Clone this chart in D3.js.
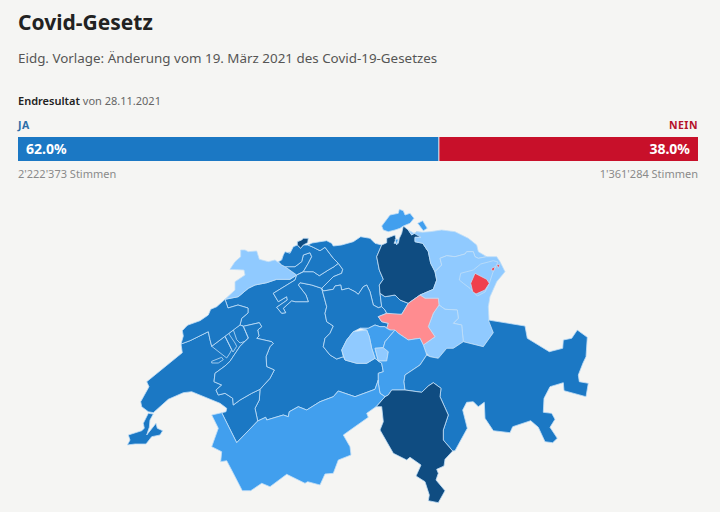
<!DOCTYPE html>
<html>
<head>
<meta charset="utf-8">
<script src="https://cdn.jsdelivr.net/npm/d3@7"></script>
<style>
body { margin: 0; background: #f5f5f3; }
text { font-family: "Noto Sans", sans-serif; }
</style>
</head>
<body>
<div id="chart"></div>
<script>
// result bar
var answers = ["JA", "NEIN"];
var shares = [62.0, 38.0];
var votes = [2222373, 1361284];
var barColors = ["#1b78c4", "#c8102a"];
var labelColors = ["#2c6ea8", "#b5112a"];

// ja share per canton, estimated from the colour classes of the map
var cantons = ["BE", "VD", "FR", "NE", "JU", "SO", "BL", "BS", "AG", "LU", "ZG", "ZH", "SH", "TG", "SG", "AR", "AI", "GL", "SZ", "NW", "OW", "UR", "GR", "TI", "VS", "GE"];
var jaShare = [63.5, 64, 63, 62, 53, 61, 63, 70, 61, 62, 64, 69, 58, 53, 52, 52, 42, 53, 47, 57, 53, 56, 63, 66, 57, 64];
var classBreaks = [45, 50, 55, 60, 65];
var classColors = ["#f0404d", "#ff8c90", "#90caff", "#419fee", "#1b78c4", "#0f4c81"];

// canton outlines, map units
var BE = [[[225,299.3],[238.3,296.7],[248.3,288.3],[255,285],[266.7,282.7],[276.7,279.3],[290,279.3],[296.7,275],[295,280],[273.3,293.3],[278.3,301.7],[286.7,296.7],[287.3,300],[276.7,307.3],[281.7,313.3],[285.7,312.7],[283.3,308.3],[291.7,300.7],[295,301.7],[308.3,301.7],[306,295],[298.3,285],[300,282.7],[311.7,285],[321.7,288.3],[326.7,306.7],[325,313.3],[326.7,321.7],[333.3,326],[330,333.3],[325,338.3],[323.3,346.7],[330,355],[336.7,359],[343.3,356.7],[345,360],[356.7,363.3],[366.7,363.3],[375,358.3],[378.3,361],[381.7,363.3],[383.3,371.7],[378.3,373.3],[378.3,380],[375,389.3],[355,396.7],[338.3,391],[333.3,396.7],[320,401.7],[306.7,410],[298.3,406.7],[289.3,411.7],[288.3,416.7],[283.3,415],[266.7,420],[265.7,417.3],[257.7,421],[255,408.3],[259.3,400],[260,389.3],[270,378.3],[274.3,370],[266.7,366.7],[266,356.7],[270,346.7],[273.3,343.3],[271.7,341.7],[256.7,338.3],[259,336],[257.7,330],[261.7,326.7],[259.3,322.7],[243.3,326.3],[240,325],[241.7,318.3],[248,313],[248,308],[238,305],[228,308]]];
var VD = [[[190,340.7],[181,344],[182.3,352.7],[146.7,381.7],[149,386.7],[140.7,401.7],[141.7,406.7],[148.3,411.7],[153.3,412.7],[168.3,399.3],[183.3,392.7],[191.7,391.7],[220,403.3],[226.7,408.3],[226,411.7],[221.7,412.7],[236.7,442.7],[257.7,421],[255,408.3],[259.3,400],[260,389.3],[251.7,393.3],[240,400],[233.3,405],[232.7,398.3],[225,393.3],[218.3,395],[216,390],[221.7,385],[214,381.7],[215,373.3],[225,366],[230,361.3],[233.3,356.3],[240,346.3],[245,341.3],[248.3,338],[243.3,326.3],[240,325],[225,336.3],[211.7,346.3],[210,339.7],[208.3,331.7]]];
var FR = [[[243.3,326.3],[259.3,322.7],[261.7,326.7],[257.7,330],[259,336],[256.7,338.3],[271.7,341.7],[273.3,343.3],[270,346.7],[266,356.7],[266.7,366.7],[274.3,370],[270,378.3],[260,389.3],[251.7,393.3],[240,400],[233.3,405],[232.7,398.3],[225,393.3],[218.3,395],[216,390],[221.7,385],[214,381.7],[215,373.3],[225,366],[230,361.3],[233.3,356.3],[240,346.3],[245,341.3],[248.3,338]],
  [[211.7,346.3],[225,336.3],[231.7,349.7],[230,353],[226.7,358]],
  [[228.3,333],[235,343],[236.7,346.3],[233,352],[231.7,349.7],[225,336.3]],
  [[233.3,329.7],[236.7,339.7],[240,343],[245,341.3],[248.3,338],[243.3,326.3],[240,325]],
  [[211.7,361.3],[221.7,357.3],[223.3,359.7],[218.3,363],[211.7,363]]];
var NE = [[[225,299.3],[228,308],[238,305],[248,308],[248,313],[241.7,318.3],[240,325],[225,336.3],[211.7,346.3],[210,339.7],[208.3,331.7],[190,340.7],[181,344],[183.3,336],[182.3,330.7],[186.7,326],[188,325],[200,320.7],[208.3,315],[210.7,309.3],[216.7,306.7]]];
var JU = [[[225,299.3],[235,290],[235,281.7],[245,275],[244,270],[230,269.3],[235,261.7],[240.7,256.7],[240.7,250],[245,250],[248.3,251.7],[256.7,251],[259.3,259.3],[268.3,261.7],[275,260],[281.7,265],[285,266.7],[296.7,275],[290,279.3],[276.7,279.3],[266.7,282.7],[255,285],[248.3,288.3],[238.3,296.7]]];
var SO = [[[296.7,275],[303.3,271.7],[313.3,271.7],[319.3,275.7],[328.3,270],[334,266.7],[338.3,263.3],[342.7,269.3],[341.7,273.3],[333.3,276.7],[321.7,288.3],[311.7,285],[300,282.7],[298.3,285],[306,295],[308.3,301.7],[295,301.7],[291.7,300.7],[283.3,308.3],[285.7,312.7],[281.7,313.3],[276.7,307.3],[287.3,300],[286.7,296.7],[278.3,301.7],[273.3,293.3],[295,280]],
  [[285,266.7],[295,266.7],[301.7,261.7],[303.3,255],[310,252.7],[311.7,256.7],[308.3,263.3],[303.3,271.7],[296.7,275]],
  [[280,262.7],[286.7,258.3],[295,256.7],[293.3,251.7],[285,252.7]]];
var BL = [[[281.7,265],[285,266.7],[295,266.7],[301.7,261.7],[303.3,255],[310,252.7],[311.7,256.7],[308.3,263.3],[303.3,271.7],[313.3,271.7],[319.3,275.7],[328.3,270],[334,266.7],[338.3,263.3],[333.3,258.3],[325,247.3],[320,250.7],[313.3,247.3],[308,245],[303.3,245],[300.7,248.3],[297.3,245],[293.3,246.7],[290,253.3],[285,251.7],[283.3,255],[281.7,260],[278.3,261.7]]];
var BS = [[[297.3,241.7],[301.7,240],[303.3,238.3],[308.3,238.3],[307.7,242.7],[303.3,245],[300.7,248.3],[297.3,245]]];
var AG = [[[308,245],[312,243],[320,241.7],[326.7,240.7],[331.7,243.3],[333.3,246],[341.7,245],[353.3,241.7],[360.7,236.7],[370,238.3],[375,243.3],[381.7,245],[376.7,256.7],[379.3,270],[383.3,279.3],[379.3,285],[380,293.3],[381.7,306.7],[378.3,307.7],[373.3,305],[370,291.7],[366.7,285],[363.3,286.7],[358.3,294.3],[355,291.7],[348.3,288.3],[341.7,290],[340.7,285],[335,286],[333.3,289.3],[323.3,291],[321.7,288.3],[333.3,276.7],[341.7,273.3],[342.7,269.3],[338.3,263.3],[333.3,258.3],[325,247.3],[320,250.7],[313.3,247.3]]];
var LU = [[[321.7,288.3],[323.3,291],[333.3,289.3],[335,286],[340.7,285],[341.7,290],[348.3,288.3],[355,291.7],[358.3,294.3],[363.3,286.7],[366.7,285],[370,291.7],[373.3,305],[378.3,307.7],[381.7,306.7],[385,310],[386.7,313.3],[378.3,316.7],[381.7,321.7],[388.3,323.3],[386.7,328.3],[385,326.7],[380,326.7],[375,325],[368.3,328.3],[360,328.3],[353.3,331.7],[346.7,340],[341.7,350],[343.3,356.7],[336.7,359],[330,355],[323.3,346.7],[325,338.3],[330,333.3],[333.3,326],[326.7,321.7],[325,313.3],[326.7,306.7]]];
var ZG = [[[380,293.3],[385,296.7],[395,295],[400,300],[408.3,303.3],[401.7,314.3],[395,315],[386.7,313.3],[385,310],[381.7,306.7]]];
var ZH = [[[403.3,226],[408.3,230],[411.7,235],[416.7,231.7],[421.7,232.3],[421,237.3],[415,237.3],[415,241.7],[422.7,243.3],[428.3,251.7],[430.7,263.3],[435,271.7],[436.7,280],[433.3,289.3],[420,295],[408.3,303.3],[400,300],[395,295],[385,296.7],[380,293.3],[379.3,285],[383.3,279.3],[379.3,270],[376.7,256.7],[381.7,245],[386.7,242.7],[386.7,238.3],[395,235],[396,239.3],[394,243.3],[398.3,243.3],[399.3,238.3],[401.7,233.3]]];
var SH = [[[381.7,226],[390,215],[398.3,213.3],[399.3,209.3],[403.3,210.7],[405,215],[410,213.3],[414,218.3],[410,223.3],[403.3,226],[400,228.3],[395,230],[388.3,231.7],[383.3,230]],
  [[417.7,223.3],[422.7,220.7],[427.3,228.3],[423.3,230.7]],
  [[395,239.3],[398.3,239.3],[396.7,245]]];
var TG = [[[408.3,230],[411.7,235],[416.7,231.7],[421.7,232.3],[430,231.7],[441.7,230],[455,231.7],[468.3,238.3],[476.7,245],[478.3,251.7],[486.7,256.7],[478.3,258.3],[475,256.7],[473.3,251.7],[466.7,251.7],[465,254],[455,256.7],[446.7,255.7],[440,258.3],[441.7,265],[435,271.7],[430.7,263.3],[428.3,251.7],[422.7,243.3],[415,241.7],[415,237.3],[421,237.3]]];
var SG = [[[435,271.7],[441.7,265],[440,258.3],[446.7,255.7],[455,256.7],[465,254],[466.7,251.7],[473.3,251.7],[475,256.7],[478.3,258.3],[486.7,256.7],[496.7,256.7],[500,261.7],[505,271.7],[496.7,281.7],[490,296.7],[488.3,306.7],[489,320],[493.3,332.7],[483.3,346.7],[463.3,341.7],[461.7,325],[453.3,323.3],[458.3,318.3],[457.3,310],[445,309.3],[439,305],[438.3,298.3],[425,298.3],[420,295],[433.3,289.3],[436.7,280]]];
var AR = [[[459.3,280],[460.7,273.3],[473.3,270],[480.7,264],[493.3,260.7],[498,262],[493,272],[489.3,283.3],[485,292],[477.3,296],[470,288.3],[463.3,283.3]]];
var AI = [[[470.7,283.3],[475,273.3],[486.7,279.3],[489.3,283.3],[485,290],[476,294],[472.7,291.7]],
  [[491.7,268.3],[495,266.7],[494,270.7],[491.7,270.7]],
  [[496.7,265],[500,264],[498.3,268.3]]];
var GL = [[[439,305],[445,309.3],[457.3,310],[458.3,318.3],[453.3,323.3],[461.7,325],[463.3,341.7],[453.3,348.3],[446.7,348.3],[438.3,358.3],[430,356.7],[426,352.7],[423.3,345],[435,336.7],[428.3,326.7],[433.3,313.3]]];
var SZ = [[[378.3,316.7],[386.7,313.3],[401.7,314.3],[408.3,303.3],[420,295],[425,298.3],[438.3,298.3],[439,305],[433.3,313.3],[428.3,326.7],[435,336.7],[423.3,345],[420,338.3],[408.3,340],[398.3,333.3],[390,330],[386.7,328.3],[388.3,323.3],[381.7,321.7]]];
var NW = [[[360,328.3],[368.3,328.3],[375,325],[380,326.7],[385,326.7],[386.7,328.3],[390,330],[395,330],[385,341.7],[383.3,347.7],[375,348.3],[378.3,361],[375,358.3],[371.7,348.3],[369.3,336.7],[366.7,330]]];
var OW = [[[341.7,350],[346.7,340],[353.3,331.7],[366.7,330],[369.3,336.7],[371.7,348.3],[375,358.3],[366.7,363.3],[356.7,363.3],[345,360]],
  [[375,348.3],[383.3,347.7],[388.3,351.7],[386.7,361],[378.3,361]]];
var UR = [[[395,330],[398.3,333.3],[408.3,340],[420,338.3],[423.3,345],[426,352.7],[426.7,355],[420,365],[405,375],[404,381.7],[405,390],[391.7,390],[388.3,395],[385,396.7],[380,393.3],[378.3,383.3],[378.3,373.3],[383.3,371.7],[381.7,363.3],[378.3,361],[386.7,361],[388.3,351.7],[383.3,347.7],[385,341.7]]];
var GR = [[[426.7,355],[430,356.7],[438.3,358.3],[446.7,348.3],[453.3,348.3],[463.3,341.7],[483.3,346.7],[493.3,332.7],[488.3,320],[525,326],[527.3,338.3],[549.3,351.7],[562.7,348.3],[563.3,340],[571.7,338.3],[577.3,330],[587.3,337.3],[586,356.7],[583,363],[578.3,375],[579.3,381.7],[588.3,383.3],[586,396.7],[564,390.7],[563.3,382.7],[550,386.7],[544,398.3],[543.3,412.3],[551.7,413.3],[555,419.3],[550,427.3],[557.3,438.3],[552.7,442.7],[545,441.7],[538.3,427.3],[530.7,420.7],[512.7,426.7],[510,432.7],[493.3,430.7],[485,418.3],[484.3,402.3],[478.3,406.7],[473.3,401.7],[466.7,402.3],[462.7,410],[467.3,428.3],[455,450.7],[452.7,451],[443.3,440],[443.3,430],[448.3,415],[440,396.7],[441,388.3],[433.3,382.7],[428.3,386],[421.7,392.3],[405,390],[404,381.7],[405,375],[420,365]]];
var TI = [[[376,406.7],[381.7,406.7],[383.3,421.7],[380,430],[393.3,453.3],[406.7,460],[410,457.3],[421,465],[416,476],[425,481.7],[429.3,495],[428.3,500.7],[438.3,502.7],[445,490.7],[436,480],[438.3,473.3],[436.7,469.3],[444,466],[445,459.3],[452.7,451],[443.3,440],[443.3,430],[448.3,415],[440,396.7],[441,388.3],[433.3,382.7],[428.3,386],[421.7,392.3],[405,390],[391.7,390],[388.3,395],[385,396.7]]];
var VS = [[[221.7,412.7],[211.7,415],[218.3,428.3],[211.7,446.7],[221.7,451.7],[220.7,461.7],[226.7,460.7],[233.3,473.3],[242.3,490.7],[250.7,490.7],[261.7,483.3],[270,486.7],[286.7,474.3],[305,483.3],[307.7,481.7],[320,485],[325,474],[333.3,473.3],[338.3,460],[351,455],[350,446.7],[343.3,435],[351.7,429],[368.3,417.3],[366.7,413.3],[376,406.7],[385,396.7],[380,393.3],[378.3,383.3],[378.3,380],[375,389.3],[355,396.7],[338.3,391],[333.3,396.7],[320,401.7],[306.7,410],[298.3,406.7],[289.3,411.7],[288.3,416.7],[283.3,415],[266.7,420],[265.7,417.3],[257.7,421],[236.7,442.7]]];
var GE = [[[148.3,413.3],[153.3,414],[150,420],[149.3,427.3],[146.7,435],[156,423.3],[157.3,428.3],[162.7,430.7],[160,435],[151.7,436.7],[146,444],[135,444],[127.3,445],[130,440],[128.3,435],[141.7,430.7],[144.3,428.3],[143.3,423.3]]];

var outlines = { BE: BE, VD: VD, FR: FR, NE: NE, JU: JU, SO: SO, BL: BL, BS: BS, AG: AG, LU: LU, ZG: ZG, ZH: ZH, SH: SH, TG: TG, SG: SG, AR: AR, AI: AI, GL: GL, SZ: SZ, NW: NW, OW: OW, UR: UR, GR: GR, TI: TI, VS: VS, GE: GE };

var width = 720,
    height = 512;

var svg = d3.select("#chart")
    .append("svg")
    .attr("width", width)
    .attr("height", height)
    .style("display", "block");

// header
svg.append("text").attr("x", 18).attr("y", 30)
    .attr("font-size", 21).attr("font-weight", 700).attr("fill", "#222")
    .text("Covid-Gesetz");
svg.append("text").attr("x", 18).attr("y", 63)
    .attr("font-size", 13.4).attr("fill", "#555")
    .text("Eidg. Vorlage: Änderung vom 19. März 2021 des Covid-19-Gesetzes");

var resultLine = svg.append("text").attr("x", 18).attr("y", 105).attr("font-size", 11);
resultLine.append("tspan").attr("font-weight", 600).attr("fill", "#222").text("Endresultat");
resultLine.append("tspan").attr("fill", "#666").text(" von 28.11.2021");

// bar
var x = d3.scaleLinear().domain([0, 100]).range([18, 696]);
var swiss = d3.formatLocale({ decimal: ".", thousands: "'", grouping: [3], currency: ["", ""] });
var fmtVotes = swiss.format(",d");
var fmtShare = d3.format(".1f");

var bar = svg.selectAll("g.answer")
    .data(answers)
    .enter().append("g")
    .attr("class", "answer");

bar.append("rect")
    .attr("x", function (d, i) { return i == 0 ? x(0) : x(shares[0]) + 1; })
    .attr("y", 137)
    .attr("width", function (d, i) { return i == 0 ? x(shares[0]) - x(0) : 698 - x(shares[0]) - 1; })
    .attr("height", 24)
    .attr("fill", function (d, i) { return barColors[i]; });

function side(i) { return i == 0 ? 18 : 698; }
function anchor(i) { return i == 0 ? "start" : "end"; }

bar.append("text")
    .attr("x", function (d, i) { return side(i); })
    .attr("y", 129)
    .attr("text-anchor", function (d, i) { return anchor(i); })
    .attr("font-size", 10.5).attr("font-weight", 700).attr("letter-spacing", 0.5)
    .attr("fill", function (d, i) { return labelColors[i]; })
    .text(function (d) { return d; });

bar.append("text")
    .attr("x", function (d, i) { return i == 0 ? 26 : 690; })
    .attr("y", 154)
    .attr("text-anchor", function (d, i) { return anchor(i); })
    .attr("font-size", 14).attr("font-weight", 700).attr("fill", "#fff")
    .text(function (d, i) { return fmtShare(shares[i]) + "%"; });

bar.append("text")
    .attr("x", function (d, i) { return side(i); })
    .attr("y", 178)
    .attr("text-anchor", function (d, i) { return anchor(i); })
    .attr("font-size", 11).attr("fill", "#8a8a8a")
    .text(function (d, i) { return fmtVotes(votes[i]) + " Stimmen"; });

// map
var color = d3.scaleThreshold().domain(classBreaks).range(classColors);

var features = cantons.map(function (name, i) {
    return {
        type: "Feature",
        properties: { name: name, ja: jaShare[i] },
        geometry: {
            type: "MultiPolygon",
            coordinates: outlines[name].map(function (ring) {
                return [ring.concat([ring[0]])];
            })
        }
    };
});
var land = { type: "FeatureCollection", features: features };

var projection = d3.geoIdentity().fitExtent([[127.3, 209.3], [588.3, 502.7]], land);
var path = d3.geoPath(projection);

svg.append("g")
    .selectAll("path")
    .data(features)
    .enter().append("path")
    .attr("d", path)
    .attr("fill", function (d) { return color(d.properties.ja); })
    .attr("stroke", "#c0def8")
    .attr("stroke-width", 0.8)
    .attr("stroke-linejoin", "round");
</script>
</body>
</html>
